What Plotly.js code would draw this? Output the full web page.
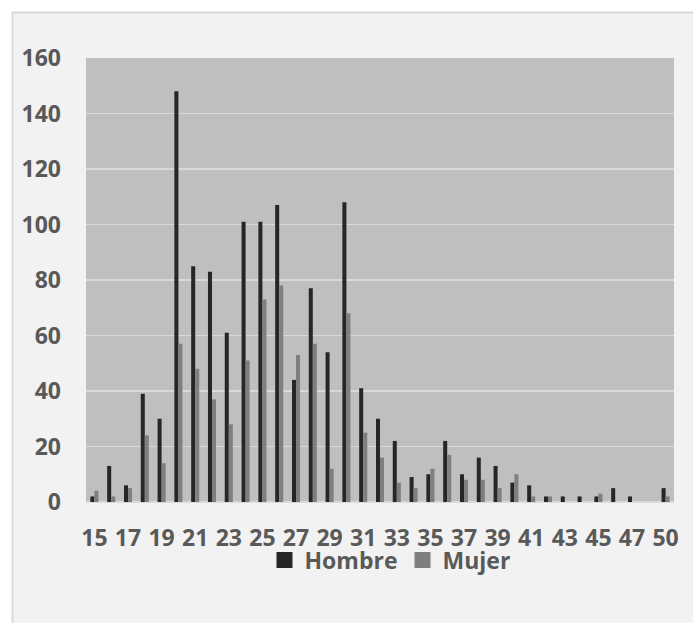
<!DOCTYPE html>
<html>
<head>
<meta charset="utf-8">
<script src="https://cdn.plot.ly/plotly-3.0.1.min.js"></script>
<style>
  html, body { margin: 0; padding: 0; background: #ffffff; }
  #chart { width: 693px; height: 623px; }
</style>
</head>
<body>
<div id="chart"></div>
<script>
// Ages (category axis); 49 is absent in the source
const ages = ['15','16','17','18','19','20','21','22','23','24','25','26','27','28','29','30','31','32','33','34','35','36','37','38','39','40','41','42','43','44','45','46','47','48','50'];
const hombre = [2,13,6,39,30,148,85,83,61,101,101,107,44,77,54,108,41,30,22,9,10,22,10,16,13,7,6,2,2,2,2,5,2,0,5];
const mujer  = [4,2,5,24,14,57,48,37,28,51,73,78,53,57,12,68,25,16,7,5,12,17,8,8,5,10,2,2,0,0,3,0,0,0,2];
const tickLabels = ['15','17','19','21','23','25','27','29','31','33','35','37','39','41','43','45','47','50'];
const seriesNames = ['Hombre','Mujer'];
const seriesColors = ['#262626','#7f7f7f'];

const FONT = '"Open Sans", "DejaVu Sans", sans-serif';
const TXT = '#595959';

const traces = [
  { type: 'bar', name: seriesNames[0], x: ages, y: hombre, showlegend: false,
    marker: { color: seriesColors[0], line: { width: 0 } } },
  { type: 'bar', name: seriesNames[1], x: ages, y: mujer, showlegend: false,
    marker: { color: seriesColors[1], line: { width: 0 } } },
  // legend-only entries with larger square keys (no drawable point)
  { type: 'scatter', mode: 'markers', name: seriesNames[0], x: [null], y: [null], showlegend: true,
    marker: { symbol: 'square', size: 16, color: seriesColors[0], line: { width: 0 } } },
  { type: 'scatter', mode: 'markers', name: seriesNames[1], x: [null], y: [null], showlegend: true,
    marker: { symbol: 'square', size: 16, color: seriesColors[1], line: { width: 0 } } }
];

const L = 86, R = 674, T = 58, B = 502, W = 693, H = 623;
const px = v => (v - L) / (R - L);
const py = v => (B - v) / (B - T);

const layout = {
  width: W, height: H,
  margin: { l: L, r: W - R, t: T, b: H - B, pad: 0 },
  paper_bgcolor: '#f2f2f2',
  plot_bgcolor: '#bfbfbf',
  font: { family: FONT, size: 23, color: TXT, weight: 'bold' },
  barmode: 'group',
  bargap: 0.52,
  bargroupgap: 0,
  showlegend: true,
  legend: {
    orientation: 'h', x: px(390), xanchor: 'center', y: py(560), yanchor: 'middle',
    font: { family: FONT, size: 23, color: TXT, weight: 'bold' },
    bgcolor: 'rgba(0,0,0,0)', itemclick: false, tracegroupgap: 0, itemwidth: 30
  },
  xaxis: {
    type: 'category',
    categoryorder: 'array', categoryarray: ages,
    tickmode: 'array', tickvals: tickLabels, ticktext: tickLabels,
    tickangle: 0,
    showgrid: false, zeroline: false, showline: false, ticks: '',
    ticklabelstandoff: 20,
    tickfont: { family: FONT, size: 23, color: TXT, weight: 'bold' },
    fixedrange: true
  },
  yaxis: {
    range: [0, 160], tickmode: 'array',
    tickvals: [0,20,40,60,80,100,120,140,160],
    showgrid: true, gridcolor: '#d9d9d9', gridwidth: 1.5,
    zeroline: true, zerolinecolor: '#d9d9d9', zerolinewidth: 1.5,
    showline: false, ticks: '',
    ticklabelstandoff: 24,
    tickfont: { family: FONT, size: 23, color: TXT, weight: 'bold' },
    fixedrange: true
  },
  shapes: [
    { type: 'rect', xref: 'paper', yref: 'paper', x0: px(-5), x1: px(W + 5), y0: py(12), y1: py(-5),
      fillcolor: '#ffffff', line: { width: 0 }, layer: 'below' },
    { type: 'rect', xref: 'paper', yref: 'paper', x0: px(-5), x1: px(12), y0: py(H + 5), y1: py(-5),
      fillcolor: '#ffffff', line: { width: 0 }, layer: 'below' },
    { type: 'line', xref: 'paper', yref: 'paper', x0: px(12), x1: px(W + 5), y0: py(12.5), y1: py(12.5),
      line: { color: '#d9d9d9', width: 2 }, layer: 'below' },
    { type: 'line', xref: 'paper', yref: 'paper', x0: px(12.5), x1: px(12.5), y0: py(12), y1: py(H + 5),
      line: { color: '#d9d9d9', width: 2 }, layer: 'below' }
  ]
};

Plotly.newPlot('chart', traces, layout, { displayModeBar: false, staticPlot: true });
</script>
</body>
</html>
